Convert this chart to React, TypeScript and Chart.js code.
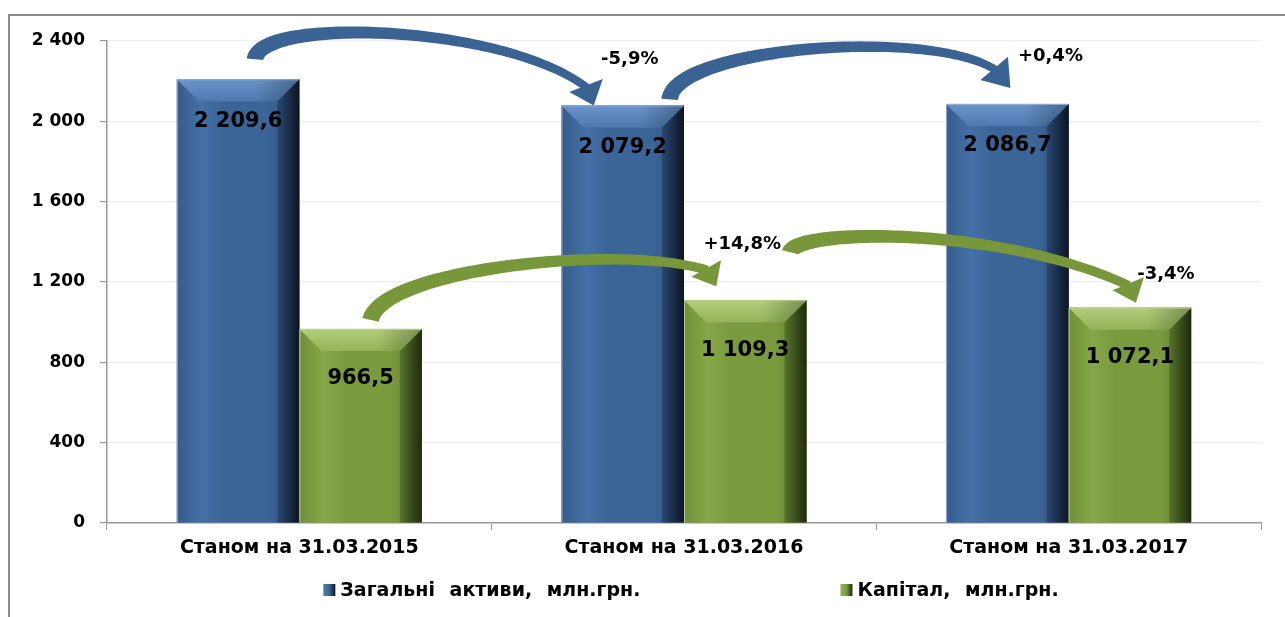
import React, { useEffect, useRef } from "react";
import { Chart, registerables } from "chart.js";

Chart.register(...registerables);

// ---------- data ----------
const categories = ["Станом на 31.03.2015", "Станом на 31.03.2016", "Станом на 31.03.2017"];
const assetsLabel = "Загальні активи, млн.грн.";
const capitalLabel = "Капітал, млн.грн.";
const assetsValues = [2209.6, 2079.2, 2086.7];
const capitalValues = [966.5, 1109.3, 1072.1];
const assetsChanges = ["-5,9%", "+0,4%"];
const capitalChanges = ["+14,8%", "-3,4%"];
const yMin = 0;
const yMax = 2400;
const yStep = 400;

// ---------- style ----------
const FONT = "'DejaVu Sans', 'Liberation Sans', sans-serif";

type Pal = { face: string; band: string; leftB: string; top1: string; top2: string; rightB: string; dark: string; edge: string; arrow: string };
const BLUE: Pal = {
  face: "#3c6597",
  band: "#4570a6",
  leftB: "#365c8c",
  top1: "#6a94ca",
  top2: "#4f7aaf",
  rightB: "#2a4872",
  dark: "#0c1422",
  edge: "rgba(160,180,210,0.9)",
  arrow: "#3a6394",
};
const GREEN: Pal = {
  face: "#7a9a3e",
  band: "#86a748",
  leftB: "#718f39",
  top1: "#b2cd7a",
  top2: "#95b358",
  rightB: "#58732c",
  dark: "#1f2a0c",
  edge: "rgba(190,210,150,0.9)",
  arrow: "#77973a",
};
const palettes = [BLUE, GREEN];
const valueLabelOffsets = [42, 50];

function fmt(v: number, d: number): string {
  const s = v.toFixed(d);
  const [i, f] = s.split(".");
  const ii = i.replace(/\B(?=(\d{3})+(?!\d))/g, " ");
  return f ? ii + "," + f : ii;
}

// Arrow annotations anchored to bar tops (offsets in px)
type ArrowSpec = {
  ds: number; from: number; to: number; text: string;
  p0: number[]; p1: number[]; p2: number[]; p3: number[]; tip: number[];
  w0: number; w1: number; head: number; label: number[];
};
const arrowSpecs: ArrowSpec[] = [
  { ds: 0, from: 0, to: 1, text: assetsChanges[0], p0: [17, -20], p1: [21, -62], p2: [-121, -82], p3: [-36, -18], tip: [-29, 0], w0: 17, w1: 8, head: 36, label: [7, -46] },
  { ds: 0, from: 1, to: 2, text: assetsChanges[1], p0: [47, -6], p1: [51, -58], p2: [-77, -77], p3: [-12, -34], tip: [3, -16], w0: 17, w1: 8, head: 36, label: [43, -48] },
  { ds: 1, from: 0, to: 1, text: capitalChanges[0], p0: [10, -9], p1: [21, -60], p2: [-124, -57], p3: [-38, -30], tip: [-29, -14], w0: 17, w1: 9, head: 34, label: [-3, -56] },
  { ds: 1, from: 1, to: 2, text: capitalChanges[1], p0: [45, -48], p1: [51, -72], p2: [-129, -82], p3: [-1, -22], tip: [6, -5], w0: 17, w1: 9, head: 34, label: [36, -33] },
];

function poly(ctx: CanvasRenderingContext2D, pts: number[][], fill: string | CanvasGradient) {
  ctx.beginPath();
  ctx.moveTo(pts[0][0], pts[0][1]);
  for (let k = 1; k < pts.length; k++) ctx.lineTo(pts[k][0], pts[k][1]);
  ctx.closePath();
  ctx.fillStyle = fill;
  ctx.fill();
}

function drawBevelBar(ctx: CanvasRenderingContext2D, L: number, R: number, T: number, B: number, c: Pal) {
  const b = Math.min(22, (R - L) / 2, (B - T) / 2);
  const g = ctx.createLinearGradient(L, 0, R, 0);
  g.addColorStop(0, c.leftB);
  g.addColorStop(0.2, c.band);
  g.addColorStop(0.38, c.face);
  g.addColorStop(0.75, c.face);
  g.addColorStop(1, c.rightB);
  ctx.fillStyle = g;
  ctx.fillRect(L, T, R - L, B - T);
  // right bevel
  const rg = ctx.createLinearGradient(R - b, 0, R, 0);
  rg.addColorStop(0, c.rightB);
  rg.addColorStop(1, c.dark);
  poly(ctx, [[R, T], [R - b, T + b], [R - b, B], [R, B]], rg);
  // top bevel
  const tg = ctx.createLinearGradient(0, T, 0, T + b);
  tg.addColorStop(0, c.top1);
  tg.addColorStop(1, c.top2);
  poly(ctx, [[L, T], [R, T], [R - b, T + b], [L + b, T + b]], tg);
  // darker right part of top bevel
  const tr = ctx.createLinearGradient(R - b * 2, 0, R, 0);
  tr.addColorStop(0, "rgba(0,0,0,0)");
  tr.addColorStop(1, "rgba(0,0,0,0.3)");
  poly(ctx, [[R - b * 2, T], [R, T], [R - b, T + b], [R - b * 2, T + b]], tr);
  ctx.strokeStyle = c.edge;
  ctx.lineWidth = 1;
  ctx.beginPath();
  ctx.moveTo(L + 0.5, B);
  ctx.lineTo(L + 0.5, T + 0.5);
  ctx.lineTo(R - 0.5, T + 0.5);
  ctx.stroke();
}

function cubic(p0: number[], p1: number[], p2: number[], p3: number[], t: number) {
  const u = 1 - t;
  const a = u * u * u, b = 3 * u * u * t, c = 3 * u * t * t, d = t * t * t;
  const x = a * p0[0] + b * p1[0] + c * p2[0] + d * p3[0];
  const y = a * p0[1] + b * p1[1] + c * p2[1] + d * p3[1];
  const dx = 3 * u * u * (p1[0] - p0[0]) + 6 * u * t * (p2[0] - p1[0]) + 3 * t * t * (p3[0] - p2[0]);
  const dy = 3 * u * u * (p1[1] - p0[1]) + 6 * u * t * (p2[1] - p1[1]) + 3 * t * t * (p3[1] - p2[1]);
  return { x, y, dx, dy };
}

function drawRibbonArrow(ctx: CanvasRenderingContext2D, p0: number[], p1: number[], p2: number[], p3: number[], tip: number[], w0: number, w1: number, head: number, color: string) {
  const N = 80;
  const left: number[][] = [];
  const right: number[][] = [];
  for (let k = 0; k <= N; k++) {
    const t = k / N;
    const q = cubic(p0, p1, p2, p3, t);
    const len = Math.hypot(q.dx, q.dy) || 1;
    const nx = -q.dy / len, ny = q.dx / len;
    const w = (w0 + (w1 - w0) * Math.pow(t, 0.7)) / 2;
    left.push([q.x + nx * w, q.y + ny * w]);
    right.push([q.x - nx * w, q.y - ny * w]);
  }
  const pts = left.concat(right.reverse());
  poly(ctx, pts, color);
  // head
  const dx = tip[0] - p3[0], dy = tip[1] - p3[1];
  const len = Math.hypot(dx, dy) || 1;
  const mx = -dy / len, my = dx / len;
  const hw = head / 2;
  const bx = p3[0] - (dx / len) * 2, by = p3[1] - (dy / len) * 2;
  poly(ctx, [[bx + mx * hw, by + my * hw], [tip[0], tip[1]], [bx - mx * hw, by - my * hw], [bx, by]], color);
}

const decorPlugin = {
  id: "decor",
  afterDatasetsDraw(chart: any) {
    const ctx: CanvasRenderingContext2D = chart.ctx;
    ctx.save();
    // bevelled bars
    chart.data.datasets.forEach((_ds: any, di: number) => {
      const meta = chart.getDatasetMeta(di);
      meta.data.forEach((el: any) => {
        const p = el.getProps(["x", "y", "base", "width"], true);
        drawBevelBar(ctx, p.x - p.width / 2, p.x + p.width / 2, p.y, p.base, palettes[di]);
      });
    });
    // arrows
    arrowSpecs.forEach((a) => {
      const meta = chart.getDatasetMeta(a.ds);
      const f = meta.data[a.from].getProps(["x", "y"], true);
      const t = meta.data[a.to].getProps(["x", "y"], true);
      const P0 = [f.x + a.p0[0], f.y + a.p0[1]];
      const P1 = [f.x + a.p1[0], f.y + a.p1[1]];
      const P2 = [t.x + a.p2[0], t.y + a.p2[1]];
      const P3 = [t.x + a.p3[0], t.y + a.p3[1]];
      const TIP = [t.x + a.tip[0], t.y + a.tip[1]];
      drawRibbonArrow(ctx, P0, P1, P2, P3, TIP, a.w0, a.w1, a.head, palettes[a.ds].arrow);
    });
    // value labels
    ctx.fillStyle = "#000";
    ctx.textAlign = "center";
    ctx.textBaseline = "middle";
    ctx.font = `bold 21px ${FONT}`;
    chart.data.datasets.forEach((ds: any, di: number) => {
      const meta = chart.getDatasetMeta(di);
      meta.data.forEach((el: any, i: number) => {
        const p = el.getProps(["x", "y"], true);
        ctx.fillText(fmt(ds.data[i], 1), p.x, p.y + valueLabelOffsets[di]);
      });
    });
    // change labels
    ctx.font = `bold 18px ${FONT}`;
    arrowSpecs.forEach((a) => {
      const meta = chart.getDatasetMeta(a.ds);
      const t = meta.data[a.to].getProps(["x", "y"], true);
      ctx.fillText(a.text, t.x + a.label[0], t.y + a.label[1]);
    });
    ctx.restore();
  },
  afterDraw(chart: any) {
    const ctx: CanvasRenderingContext2D = chart.ctx;
    const area = chart.chartArea;
    ctx.save();
    // frame
    ctx.strokeStyle = "#8c8c8c";
    ctx.lineWidth = 2;
    ctx.beginPath();
    ctx.moveTo(9, chart.height + 10);
    ctx.lineTo(9, 15);
    ctx.lineTo(chart.width + 10, 15);
    ctx.stroke();
    // legend
    ctx.font = `bold 19px ${FONT}`;
    (ctx as any).wordSpacing = "8px";
    ctx.textBaseline = "middle";
    ctx.textAlign = "left";
    const items = chart.data.datasets.map((d: any, i: number) => ({ text: d.label, pal: palettes[i], w: ctx.measureText(d.label).width }));
    const box = 12, gapBox = 5, gap = 200;
    const total = items.reduce((s: number, it: any) => s + box + gapBox + it.w, 0) + gap * (items.length - 1);
    let x = (area.left + area.right) / 2 + 7 - total / 2;
    const y = 590;
    items.forEach((it: any) => {
      const g = ctx.createLinearGradient(x, 0, x + box, 0);
      g.addColorStop(0, it.pal.top2);
      g.addColorStop(0.5, it.pal.face);
      g.addColorStop(1, it.pal.dark);
      ctx.fillStyle = g;
      ctx.fillRect(x, y - box / 2, box, box);
      ctx.fillStyle = "#000";
      ctx.fillText(it.text, x + box + gapBox, y + 1);
      x += box + gapBox + it.w + gap;
    });
    ctx.restore();
  },
};

export default function App() {
  const ref = useRef<HTMLCanvasElement>(null);
  useEffect(() => {
    const canvas = ref.current;
    if (!canvas) return;
    const chart = new Chart(canvas, {
      type: "bar",
      data: {
        labels: categories,
        datasets: [
          { label: assetsLabel, data: assetsValues, backgroundColor: BLUE.face, borderWidth: 0, categoryPercentage: 0.637, barPercentage: 1.0 },
          { label: capitalLabel, data: capitalValues, backgroundColor: GREEN.face, borderWidth: 0, categoryPercentage: 0.637, barPercentage: 1.0 },
        ],
      },
      options: {
        responsive: false,
        devicePixelRatio: 1,
        animation: false,
        layout: { padding: { top: 41, right: 24, bottom: 54, left: 0 } },
        plugins: {
          legend: { display: false },
          tooltip: { enabled: false },
        },
        scales: {
          x: {
            grid: { display: true, drawOnChartArea: false, drawTicks: true, tickLength: 7, color: "#9a9a9a", offset: true },
            border: { display: true, color: "#9a9a9a", width: 1.5 },
            ticks: { color: "#000", font: { family: FONT, size: 19, weight: "bold" }, padding: 7, maxRotation: 0 },
            afterFit: (s: any) => { s.height = 40; },
          },
          y: {
            min: yMin,
            max: yMax,
            ticks: {
              stepSize: yStep,
              color: "#000",
              font: { family: FONT, size: 17, weight: "bold" },
              padding: 15,
              callback: (v: any) => fmt(Number(v), 0),
            },
            grid: { color: "#ededed", tickColor: "#9a9a9a", tickLength: 7, lineWidth: 1.2 },
            border: { display: true, color: "#9a9a9a", width: 1.5 },
            afterFit: (s: any) => { s.width = 107; },
          },
        },
      },
      plugins: [decorPlugin],
    } as any);
    return () => chart.destroy();
  }, []);
  return (
    <div style={{ position: "absolute", left: 0, top: 0, width: 1285, height: 617, background: "#fff" }}>
      <canvas ref={ref} width={1285} height={617} style={{ display: "block", width: 1285, height: 617 }} />
    </div>
  );
}
